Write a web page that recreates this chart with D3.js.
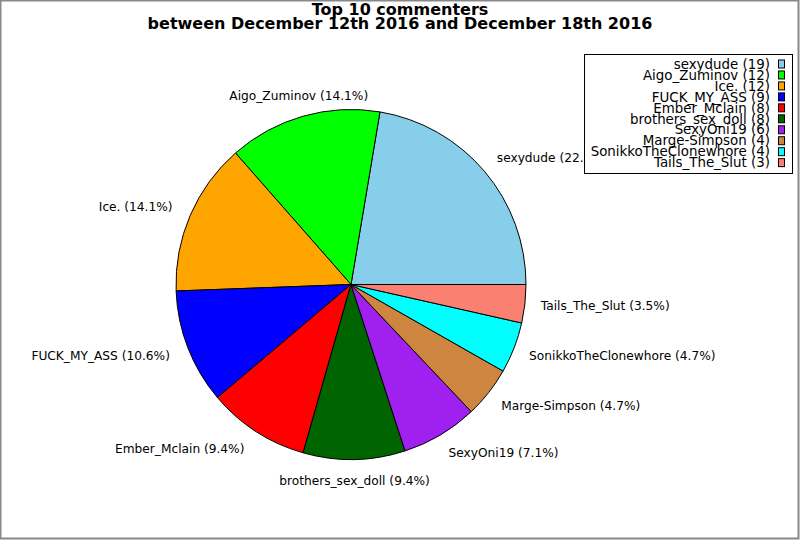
<!DOCTYPE html>
<html>
<head>
<meta charset="utf-8">
<script src="https://cdn.jsdelivr.net/npm/d3@7"></script>
<style>
  body { margin: 0; background: #fff; }
  text { font-family: "DejaVu Sans", sans-serif; }
</style>
</head>
<body>
<svg id="chart" width="800" height="540"></svg>
<script>
const names = ["sexydude", "Aigo_Zuminov", "Ice.", "FUCK_MY_ASS", "Ember_Mclain",
  "brothers_sex_doll", "SexyOni19", "Marge-Simpson", "SonikkoTheClonewhore", "Tails_The_Slut"];
const counts = [19, 12, 12, 9, 8, 8, 6, 4, 4, 3];
const colors = ["#87ceeb", "#00ff00", "#ffa500", "#0000ff", "#ff0000",
  "#006400", "#a020f0", "#cd853f", "#00ffff", "#fa8072"];
const titleLines = ["Top 10 commenters", "between December 12th 2016 and December 18th 2016"];

const svg = d3.select("#chart");
const cx = 351, cy = 284.5, radius = 175, labelRadius = 191;
const total = d3.sum(counts);

const data = names.map((name, i) => ({ name, count: counts[i], color: colors[i] }));

// outer frame
svg.append("rect")
    .attr("x", 0.5).attr("y", 0.5)
    .attr("width", 798).attr("height", 538)
    .attr("fill", "none")
    .attr("stroke", "#888")
    .attr("stroke-width", 2);

// title
svg.append("g")
    .attr("class", "title")
  .selectAll("text")
  .data(titleLines)
  .enter().append("text")
    .attr("x", 400)
    .attr("y", (d, i) => 15 + i * 13.5)
    .attr("text-anchor", "middle")
    .attr("font-size", 16)
    .attr("font-weight", "bold")
    .text((d) => d);

// counterclockwise from 3 o'clock
const pie = d3.pie()
    .value((d) => d.count)
    .sort(null)
    .startAngle(Math.PI / 2)
    .endAngle(Math.PI / 2 - 2 * Math.PI);

const arc = d3.arc().innerRadius(0).outerRadius(radius);
const arcs = pie(data);

const plot = svg.append("g")
    .attr("transform", `translate(${cx},${cy})`);

plot.append("g")
    .attr("class", "slices")
  .selectAll("path")
  .data(arcs)
  .enter().append("path")
    .attr("d", arc)
    .attr("fill", (d) => d.data.color)
    .attr("stroke", "#000")
    .attr("stroke-width", 1)
    .attr("stroke-linejoin", "round");

const midAngle = (d) => (d.startAngle + d.endAngle) / 2;
const side = (d) => {
  const s = Math.sin(midAngle(d));
  return s > 0.35 ? "start" : s < -0.35 ? "end" : "middle";
};

plot.append("g")
    .attr("class", "labels")
  .selectAll("text")
  .data(arcs)
  .enter().append("text")
    .attr("x", (d) => labelRadius * Math.sin(midAngle(d)) - (side(d) === "end" ? 3 : 0))
    .attr("y", (d) => -labelRadius * Math.cos(midAngle(d)) - 5 * Math.cos(midAngle(d)))
    .attr("dy", "0.35em")
    .attr("text-anchor", side)
    .attr("font-size", 12.2)
    .attr("fill", "#000")
    .text((d) => `${d.data.name} (${(d.data.count / total * 100).toFixed(1)}%)`);

// legend
const legend = svg.append("g").attr("class", "legend");
const rowStep = 10.96, firstRow = 64;

legend.append("rect")
    .attr("x", 584.5).attr("y", 54.5)
    .attr("width", 208).attr("height", 119)
    .attr("fill", "#fff")
    .attr("stroke", "#000")
    .attr("stroke-width", 1);

const rows = legend.selectAll("g.row")
  .data(data)
  .enter().append("g")
    .attr("class", "row")
    .attr("transform", (d, i) => `translate(0,${firstRow + i * rowStep})`);

rows.append("text")
    .attr("x", 770)
    .attr("dy", "0.35em")
    .attr("text-anchor", "end")
    .attr("font-size", 13.4)
    .text((d) => `${d.name} (${d.count})`);

rows.append("rect")
    .attr("x", 778.5).attr("y", -4)
    .attr("width", 6).attr("height", 8)
    .attr("fill", (d) => d.color)
    .attr("stroke", "#000")
    .attr("stroke-width", 1);
</script>
</body>
</html>
